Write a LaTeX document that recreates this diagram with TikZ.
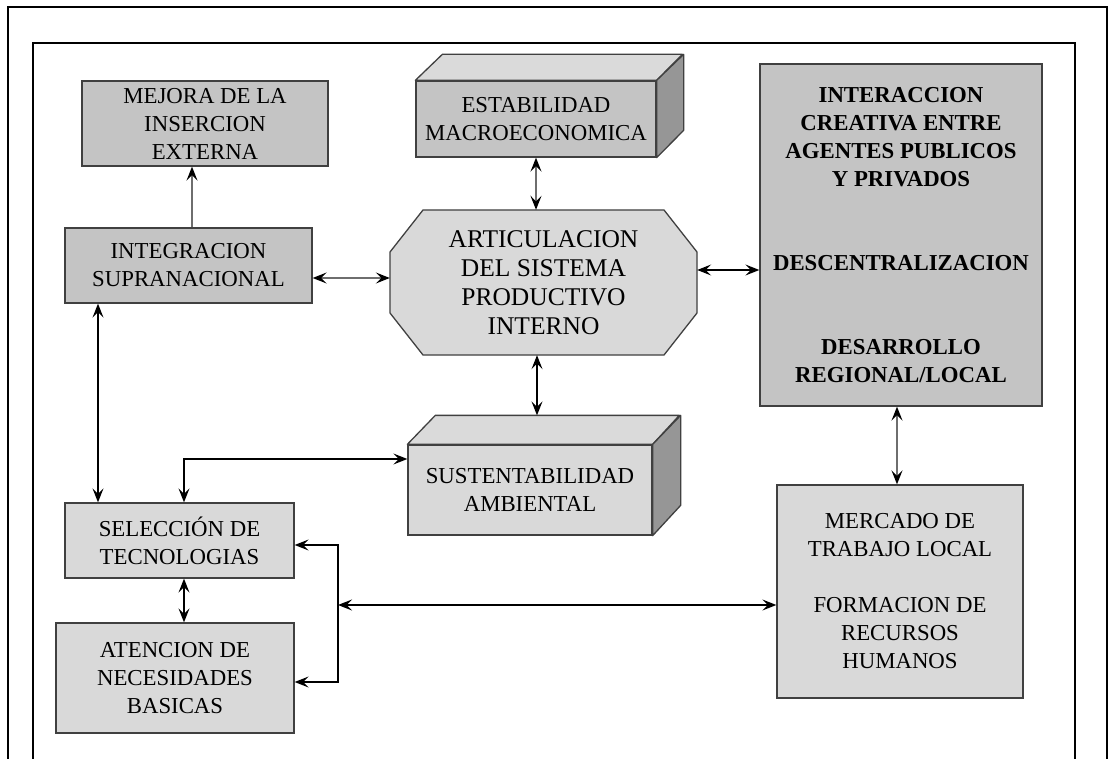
\documentclass[tikz,border=0pt]{standalone}
\usepackage{fontspec}
\setmainfont{Liberation Serif}
\usetikzlibrary{arrows.meta}
\definecolor{darkfill}{HTML}{C4C4C4}
\definecolor{lightfill}{HTML}{D9D9D9}
\definecolor{topfill}{HTML}{DADADA}
\definecolor{sidefill}{HTML}{969696}
\definecolor{edgecol}{HTML}{404040}
\definecolor{grayline}{HTML}{6E6E6E}
\tikzset{
  box/.style={draw=edgecol, line width=1.3pt, align=center, inner sep=0pt, font=\fontsize{22.8}{28}\selectfont},
  darkbox/.style={box, fill=darkfill},
  lightbox/.style={box, fill=lightfill},
  topface/.style={fill=topfill, draw=edgecol, line width=1.3pt, line join=round},
  sideface/.style={fill=sidefill, draw=edgecol, line width=1.3pt, line join=round},
  frameline/.style={line width=2.2pt, draw=black},
  conn/.style={line width=1.4pt, draw=black},
  gconn/.style={line width=1.8pt, draw=grayline},
}
\begin{document}
\begin{tikzpicture}[x=1pt,y=-1pt,>={Stealth[length=14pt,width=11pt,inset=5.5pt,color=black]}]
\useasboundingbox (0,0) rectangle (1110,759);
\fill[white] (0,0) rectangle (1110,759);
\draw[frameline] (8,759) -- (8,7) -- (1107,7) -- (1107,759);
\draw[frameline] (33,759) -- (33,43) -- (1075,43) -- (1075,759);

% boxes
\node[darkbox, minimum width=246pt, minimum height=85pt] (mejora) at (205,123.5) {MEJORA DE LA\\INSERCION\\EXTERNA};
\node[darkbox, minimum width=247pt, minimum height=75pt] (integ) at (188.5,265.5) {INTEGRACION\\SUPRANACIONAL};

\node[darkbox, minimum width=240pt, minimum height=76pt] (estab) at (536,119) {ESTABILIDAD\\MACROECONOMICA};
\filldraw[topface] (estab.north west) -- ++(27pt,26pt) -- ++(240pt,0pt) -- (estab.north east) -- cycle;
\filldraw[sideface] (estab.north east) -- ++(27pt,26pt) -- ++(0pt,-76pt) -- (estab.south east) -- cycle;

\filldraw[fill=lightfill, draw=edgecol, line width=1.3pt, line join=round] (423,210) -- (664,210) -- (697,252) -- (697,313) -- (664,355) -- (423,355) -- (390,313) -- (390,252) -- cycle;
\node[align=center, inner sep=0pt, minimum width=307pt, minimum height=145pt, font=\fontsize{25.5}{29}\selectfont] (art) at (543.5,282.5) {ARTICULACION\\DEL SISTEMA\\PRODUCTIVO\\INTERNO};

\node[darkbox, font=\bfseries\fontsize{22.8}{28}\selectfont, minimum width=282pt, minimum height=342pt] (inter) at (901,235) {INTERACCION\\CREATIVA ENTRE\\AGENTES PUBLICOS\\Y PRIVADOS\\[56pt]DESCENTRALIZACION\\[56pt]DESARROLLO\\REGIONAL/LOCAL};

\node[lightbox, minimum width=244pt, minimum height=90pt] (sust) at (530,490) {SUSTENTABILIDAD\\AMBIENTAL};
\filldraw[topface] (sust.north west) -- ++(28pt,29pt) -- ++(244pt,0pt) -- (sust.north east) -- cycle;
\filldraw[sideface] (sust.north east) -- ++(28pt,29pt) -- ++(0pt,-90pt) -- (sust.south east) -- cycle;
\path (sust.north west) ++(28pt,29pt) coordinate (sback);

\node[lightbox, minimum width=229pt, minimum height=75pt] (sel) at (179.5,540.5) {SELECCIÓN DE\\TECNOLOGIAS};
\node[lightbox, minimum width=238pt, minimum height=110pt] (aten) at (175,678) {ATENCION DE\\NECESIDADES\\BASICAS};
\node[lightbox, minimum width=246pt, minimum height=213pt] (merc) at (900,591.5) {MERCADO DE\\TRABAJO LOCAL\\[28pt]FORMACION DE\\RECURSOS\\HUMANOS};

% alignment coordinates
\coordinate (c192) at (192,0);
\coordinate (yA) at (0,278);
\coordinate (yB) at (0,270);
\coordinate (c537) at (537,0);
\coordinate (c897) at (897,0);
\coordinate (c98) at (98,0);
\coordinate (c184) at (184,0);
\coordinate (y459) at (0,459);
\coordinate (c338) at (338,0);
\coordinate (y545) at (0,545);
\coordinate (y682) at (0,682);
\coordinate (y605) at (0,605);

% connectors
\draw[gconn,->] (integ.north -| c192) -- (mejora.south -| c192);
\draw[gconn,<->] (integ.east |- yA) -- (art.west |- yA);
\draw[gconn,<->] (estab.south) -- (estab.south |- art.north);
\draw[conn,<->] (art.east |- yB) -- (inter.west |- yB);
\draw[conn,<->] (art.south -| c537) -- (sback -| c537);
\draw[gconn,<->] (inter.south -| c897) -- (merc.north -| c897);
\draw[conn,<->] (integ.south -| c98) -- (sel.north -| c98);
\draw[conn,<->] (sel.north -| c184) |- (sust.west |- y459);
\draw[conn,<->] (sel.east |- y545) -| (c338 |- y682) -- (aten.east |- y682);
\draw[conn,<->] (c338 |- y605) -- (merc.west |- y605);
\draw[conn,<->] (sel.south -| c184) -- (aten.north -| c184);
\end{tikzpicture}
\end{document}
